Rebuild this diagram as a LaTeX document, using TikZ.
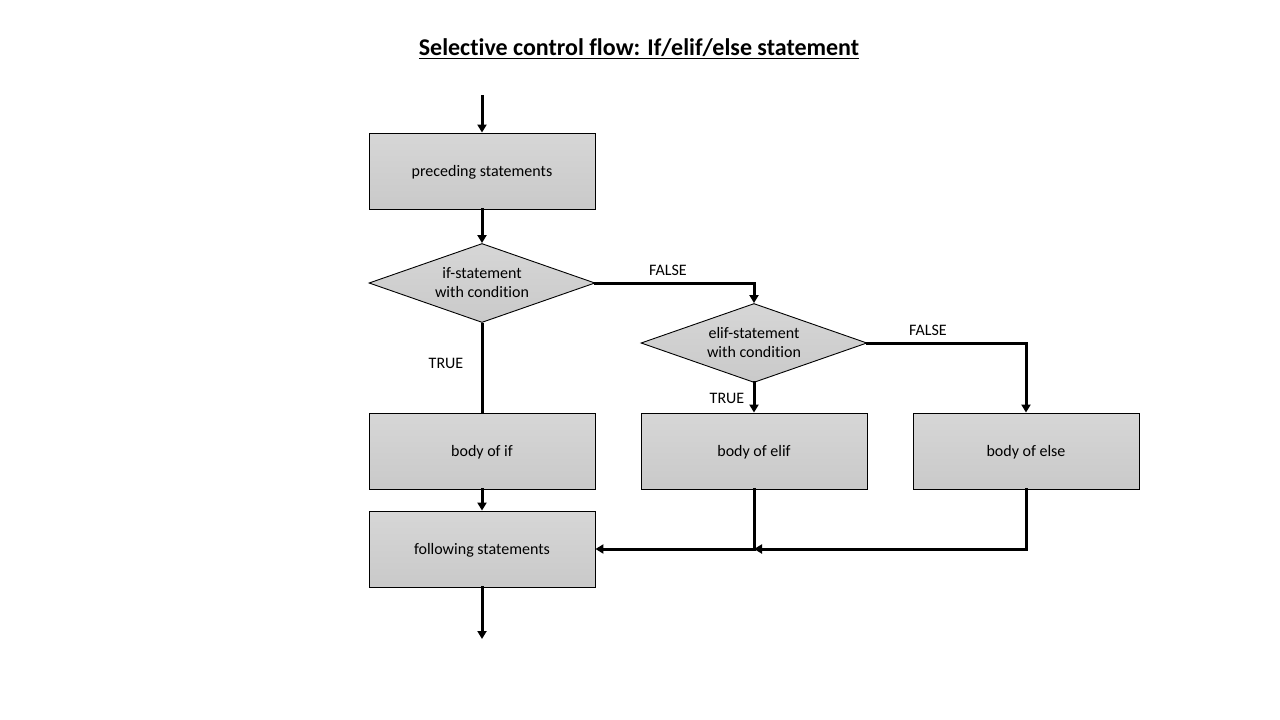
\documentclass[tikz,border=0pt]{standalone}
\usepackage{fontspec}
\setmainfont[Ligatures=NoCommon]{Carlito}
\usetikzlibrary{shapes.geometric,arrows.meta}
\begin{document}
\begin{tikzpicture}[x=1pt,y=-1pt,
  boxstyle/.style={draw=black,line width=0.9pt,top color=gray!32,bottom color=gray!42,
    minimum width=226pt,minimum height=76pt,inner sep=0pt,text depth=0pt,font=\fontsize{16}{19}\selectfont},
  dia/.style={diamond,draw=black,line width=0.9pt,top color=gray!32,bottom color=gray!42,
    minimum width=226pt,minimum height=79pt,inner sep=0pt,aspect=2.86,align=center,
    font=\fontsize{16}{19}\selectfont},
  conn/.style={line width=3pt,line cap=rect},
  arr/.style={conn,-{Triangle[length=8pt,width=9pt]}},
  lbl/.style={font=\fontsize{16}{19}\selectfont}
]
\useasboundingbox (0,0) rectangle (1280,720);
\node[font=\fontsize{24}{28}\selectfont\bfseries] (title) at (639,49) {\underline{Selective control flow: If/elif/else statement}};

\node[boxstyle] (pre) at (482,171) {preceding statements};
\node[dia] (if) at (482,283) {if-statement\\with condition};
\node[dia] (elif) at (754,343) {elif-statement\\with condition};
\node[boxstyle] (bif) at (482,451) {body of if};
\node[boxstyle] (belif) at (754,451) {body of elif};
\node[boxstyle] (belse) at (1026,451) {body of else};
\node[boxstyle] (fol) at (482,549) {following statements};

\coordinate (start) at (482,96);
\coordinate (endp) at (482,639);
\coordinate (j1) at (754,549);

\draw[arr] (start) -- (pre.north);
\draw[arr] (pre.south) -- (if.north);
\draw[arr] (if.east) -| (elif.north);
\draw[arr] (elif.east) -| (belse.north);
\draw[arr] (elif.south) -- (belif.north);
\draw[conn,line cap=butt] (if.south) -- (bif.north);
\draw[arr] (bif.south) -- (fol.north);
\draw[arr] (fol.south) -- (endp);
\draw[arr] (belif.south) |- (fol.east);
\draw[arr] (belse.south) |- (j1);

\node[lbl] (f1) at (668,270) {FALSE};
\node[lbl] (f2) at (928,330) {FALSE};
\node[lbl] (t1) at (446,363) {TRUE};
\node[lbl] (t2) at (727,398) {TRUE};
\end{tikzpicture}
\end{document}
